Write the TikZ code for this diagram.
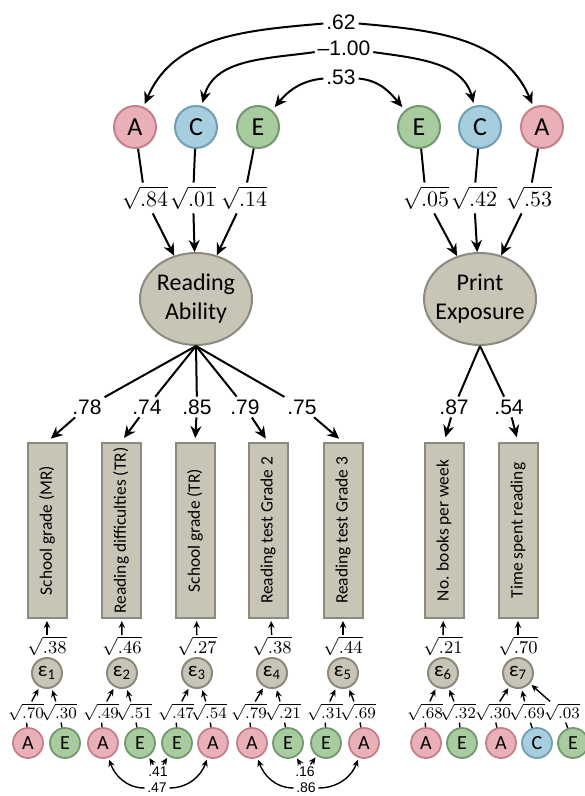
\documentclass[tikz,border=0pt]{standalone}
\usepackage{fontspec}
\usepackage{graphicx}
\usetikzlibrary{arrows.meta, shapes.geometric}
\newfontfamily\calfont{Carlito}
\newfontfamily\arialfont{Liberation Sans}
\definecolor{afill}{RGB}{234,176,184}
\definecolor{adraw}{RGB}{196,128,138}
\definecolor{cfill}{RGB}{166,206,222}
\definecolor{cdraw}{RGB}{112,158,178}
\definecolor{efill}{RGB}{168,204,160}
\definecolor{edraw}{RGB}{114,152,110}
\definecolor{gfill}{RGB}{200,197,183}
\definecolor{gdraw}{RGB}{140,138,126}

\begin{document}
\begin{tikzpicture}[x=0.5pt,y=0.5pt,line width=1pt,
  >={Stealth[length=6pt,width=5.5pt,inset=2pt]},
  ace/.style={circle, draw, line width=1pt, minimum size=21pt, inner sep=0pt, font=\calfont\fontsize{13}{15}\selectfont},
  acesmall/.style={circle, draw, line width=0.9pt, minimum size=15pt, inner sep=0pt, font=\calfont\fontsize{10}{12}\selectfont},
  Aclr/.style={fill=afill, draw=adraw},
  Cclr/.style={fill=cfill, draw=cdraw},
  Eclr/.style={fill=efill, draw=edraw},
  latent/.style={ellipse, draw=gdraw, fill=gfill, line width=1pt, minimum width=56pt, minimum height=46pt, inner sep=0pt},
  lattext/.style={font=\calfont\fontsize{12}{14.5}\selectfont, align=center, inner sep=0pt},
  obs/.style={rectangle, draw=gdraw, fill=gfill, line width=1pt, minimum width=19.5pt, minimum height=87.5pt, inner sep=0pt, font=\calfont\fontsize{8.7}{10}\selectfont},
  err/.style={circle, draw=gdraw, fill=gfill, line width=1pt, minimum size=15pt, inner sep=0pt, font=\calfont\fontsize{10.5}{12}\selectfont},
  corr/.style={font=\arialfont\fontsize{10.5}{12}\selectfont, inner sep=1pt},
  coef/.style={font=\fontsize{11}{13}\selectfont, inner sep=1.5pt},
  coefs/.style={font=\fontsize{9}{10}\selectfont, inner sep=0.3pt},
  coeft/.style={font=\fontsize{8}{9}\selectfont, inner sep=0.6pt},
  smallcorr/.style={font=\arialfont\fontsize{7}{8}\selectfont, inner sep=0.8pt},
  thin/.style={line width=0.7pt, >={Stealth[length=3.5pt,width=3.2pt,inset=1.2pt]}}
]
\useasboundingbox (0,0) rectangle (584,-796);

% genetic factors, top
\node[ace, Aclr] (aL) at (135,-127) {A};
\node[ace, Cclr] (cL) at (196,-127) {C};
\node[ace, Eclr] (eL) at (258,-127) {E};
\node[ace, Eclr] (eR) at (419,-127) {E};
\node[ace, Cclr] (cR) at (480,-127) {C};
\node[ace, Aclr] (aR) at (542,-127) {A};

\node[corr] (r62) at (341,-22) {.62};
\node[corr] (r100) at (344,-48) {–1.00};
\node[corr] (r53) at (341,-77) {.53};

\draw[->, shorten >=1.5pt] (r62) to[out=185,in=67] (aL);
\draw[->, shorten >=1.5pt] (r62) to[out=-5,in=113] (aR);
\draw[->, shorten >=1.5pt] (r100) to[out=188,in=75] (cL);
\draw[->, shorten >=1.5pt] (r100) to[out=-8,in=105] (cR);
\draw[->, shorten >=2pt] (r53) to[out=185,in=50] (eL);
\draw[->, shorten >=2pt] (r53) to[out=-5,in=130] (eR);

\node[coef] (l1) at (145,-198) {$\sqrt{.84}$};
\node[coef] (l2) at (193,-198) {$\sqrt{.01}$};
\node[coef] (l3) at (244,-198) {$\sqrt{.14}$};
\node[coef] (l4) at (426,-198) {$\sqrt{.05}$};
\node[coef] (l5) at (474,-198) {$\sqrt{.42}$};
\node[coef] (l6) at (529,-198) {$\sqrt{.53}$};

% latent variables
\node[latent] (RA) at (196,-299) {};
\node[lattext] (RAt) at (RA) {Reading\\Ability};
\node[latent] (PE) at (480,-299) {};
\node[lattext] (PEt) at (PE) {Print\\Exposure};

\draw (aL) -- (l1);
\draw (cL) -- (l2);
\draw (eL) -- (l3);
\draw (eR) -- (l4);
\draw (cR) -- (l5);
\draw (aR) -- (l6);
\draw[->] (l1) -- (RA);
\draw[->] (l2) -- (RA);
\draw[->] (l3) -- (RA);
\draw[->] (l4) -- (PE);
\draw[->] (l5) -- (PE);
\draw[->] (l6) -- (PE);

% indicators
\node[obs] (b1) at (47,-530.5) {\rotatebox{90}{School grade (MR)}};
\node[obs] (b2) at (121,-530.5) {\rotatebox{90}{Reading difficulties (TR)}};
\node[obs] (b3) at (195,-530.5) {\rotatebox{90}{School grade (TR)}};
\node[obs] (b4) at (268,-530.5) {\rotatebox{90}{Reading test Grade 2}};
\node[obs] (b5) at (343,-530.5) {\rotatebox{90}{Reading test Grade 3}};
\node[obs] (b6) at (444,-530.5) {\rotatebox{90}{No. books per week}};
\node[obs] (b7) at (518,-530.5) {\rotatebox{90}{Time spent reading}};

\node[corr] (f1) at (87,-407) {.78};
\node[corr] (f2) at (147,-407) {.74};
\node[corr] (f3) at (197,-407) {.85};
\node[corr] (f4) at (245,-407) {.79};
\node[corr] (f5) at (302,-407) {.75};
\node[corr] (f6) at (454,-407) {.87};
\node[corr] (f7) at (509,-407) {.54};

\draw (RA.south) -- (f1);
\draw (RA.south) -- (f2);
\draw (RA.south) -- (f3);
\draw (RA.south) -- (f4);
\draw (RA.south) -- (f5);
\draw (PE.south) -- (f6);
\draw (PE.south) -- (f7);
\draw[->, shorten >=2.5pt] (f1) -- (b1.north);
\draw[->, shorten >=2.5pt] (f2) -- (b2.north);
\draw[->, shorten >=2pt] (f3) -- (b3.north);
\draw[->, shorten >=2pt] (f4) -- (b4.north);
\draw[->, shorten >=2.5pt] (f5) -- (b5.north);
\draw[->, shorten >=2.5pt] (f6) -- (b6.north);
\draw[->, shorten >=2.5pt] (f7) -- (b7.north);

% residuals
\node[err] (eps1) at (47,-673) {ε\textsubscript{1}};
\node[err] (eps2) at (122,-673) {ε\textsubscript{2}};
\node[err] (eps3) at (197,-673) {ε\textsubscript{3}};
\node[err] (eps4) at (272,-673) {ε\textsubscript{4}};
\node[err] (eps5) at (343,-673) {ε\textsubscript{5}};
\node[err] (eps6) at (443,-673) {ε\textsubscript{6}};
\node[err] (eps7) at (518,-673) {ε\textsubscript{7}};

\node[coefs] (w1) at (47,-646) {$\sqrt{.38}$};
\node[coefs] (w2) at (122,-646) {$\sqrt{.46}$};
\node[coefs] (w3) at (197,-646) {$\sqrt{.27}$};
\node[coefs] (w4) at (272,-646) {$\sqrt{.38}$};
\node[coefs] (w5) at (343,-646) {$\sqrt{.44}$};
\node[coefs] (w6) at (443,-646) {$\sqrt{.21}$};
\node[coefs] (w7) at (518,-646) {$\sqrt{.70}$};

\draw[thin, ->, shorten >=1pt] (w1) -- (b1);
\draw[thin, ->, shorten >=1pt] (w2) -- (b2);
\draw[thin, ->, shorten >=1pt] (w3) -- (b3);
\draw[thin, ->, shorten >=1pt] (w4) -- (b4);
\draw[thin, ->, shorten >=1pt] (w5) -- (b5);
\draw[thin, ->, shorten >=1pt] (w6) -- (b6);
\draw[thin, ->, shorten >=1pt] (w7) -- (b7);

% genetic factors, bottom
\node[acesmall, Aclr] (u1a) at (28,-743) {A};
\node[acesmall, Eclr] (u1e) at (65,-743) {E};
\node[acesmall, Aclr] (u2a) at (103,-743) {A};
\node[acesmall, Eclr] (u2e) at (140,-743) {E};
\node[acesmall, Eclr] (u3e) at (177,-743) {E};
\node[acesmall, Aclr] (u3a) at (213,-743) {A};
\node[acesmall, Aclr] (u4a) at (252,-743) {A};
\node[acesmall, Eclr] (u4e) at (288,-743) {E};
\node[acesmall, Eclr] (u5e) at (326,-743) {E};
\node[acesmall, Aclr] (u5a) at (364,-743) {A};
\node[acesmall, Aclr] (u6a) at (426,-743) {A};
\node[acesmall, Eclr] (u6e) at (462,-743) {E};
\node[acesmall, Aclr] (u7a) at (501,-743) {A};
\node[acesmall, Cclr] (u7c) at (537,-743) {C};
\node[acesmall, Eclr] (u7e) at (573,-743) {E};

\node[coeft] (v1a) at (26,-712) {$\sqrt{.70}$};
\node[coeft] (v1e) at (59,-712) {$\sqrt{.30}$};
\node[coeft] (v2a) at (101,-712) {$\sqrt{.49}$};
\node[coeft] (v2e) at (134,-712) {$\sqrt{.51}$};
\node[coeft] (v3e) at (176,-712) {$\sqrt{.47}$};
\node[coeft] (v3a) at (209,-712) {$\sqrt{.54}$};
\node[coeft] (v4a) at (249,-712) {$\sqrt{.79}$};
\node[coeft] (v4e) at (283,-712) {$\sqrt{.21}$};
\node[coeft] (v5e) at (325,-712) {$\sqrt{.31}$};
\node[coeft] (v5a) at (358,-712) {$\sqrt{.69}$};
\node[coeft] (v6a) at (425,-712) {$\sqrt{.68}$};
\node[coeft] (v6e) at (458,-712) {$\sqrt{.32}$};
\node[coeft] (v7a) at (493,-712) {$\sqrt{.30}$};
\node[coeft] (v7c) at (527,-712) {$\sqrt{.69}$};
\node[coeft] (v7e) at (562,-712) {$\sqrt{.03}$};

\draw[thin] (u1a) -- (v1a);
\draw[thin] (u1e) -- (v1e);
\draw[thin] (u2a) -- (v2a);
\draw[thin] (u2e) -- (v2e);
\draw[thin] (u3e) -- (v3e);
\draw[thin] (u3a) -- (v3a);
\draw[thin] (u4a) -- (v4a);
\draw[thin] (u4e) -- (v4e);
\draw[thin] (u5e) -- (v5e);
\draw[thin] (u5a) -- (v5a);
\draw[thin] (u6a) -- (v6a);
\draw[thin] (u6e) -- (v6e);
\draw[thin] (u7a) -- (v7a);
\draw[thin] (u7c) -- (v7c);
\draw[thin] (u7e) -- (v7e);

\draw[thin, ->, shorten >=1pt] (v1a) -- (eps1);
\draw[thin, ->, shorten >=1pt] (v1e) -- (eps1);
\draw[thin, ->, shorten >=1pt] (v2a) -- (eps2);
\draw[thin, ->, shorten >=1pt] (v2e) -- (eps2);
\draw[thin, ->, shorten >=1pt] (v3e) -- (eps3);
\draw[thin, ->, shorten >=1pt] (v3a) -- (eps3);
\draw[thin, ->, shorten >=1pt] (v4a) -- (eps4);
\draw[thin, ->, shorten >=1pt] (v4e) -- (eps4);
\draw[thin, ->, shorten >=1pt] (v5e) -- (eps5);
\draw[thin, ->, shorten >=1pt] (v5a) -- (eps5);
\draw[thin, ->, shorten >=1pt] (v6a) -- (eps6);
\draw[thin, ->, shorten >=1pt] (v6e) -- (eps6);
\draw[thin, ->, shorten >=1pt] (v7a) -- (eps7);
\draw[thin, ->, shorten >=1pt] (v7c) -- (eps7);
\draw[thin, ->, shorten >=1pt] (v7e) -- (eps7);

% residual correlations
\node[smallcorr] (r41) at (158,-772) {.41};
\node[smallcorr] (r47) at (157,-788) {.47};
\node[smallcorr] (r16) at (305,-772) {.16};
\node[smallcorr] (r86) at (306,-788) {.86};

\draw[thin, ->, shorten >=1pt] (r41) -- (u2e);
\draw[thin, ->, shorten >=1pt] (r41) -- (u3e);
\draw[thin, ->, shorten >=1pt] (r16) -- (u4e);
\draw[thin, ->, shorten >=1pt] (r16) -- (u5e);
\draw[thin, ->, shorten >=1pt] (r47) to[out=180,in=-70] (u2a);
\draw[thin, ->, shorten >=1pt] (r47) to[out=0,in=-110] (u3a);
\draw[thin, ->, shorten >=1pt] (r86) to[out=180,in=-70] (u4a);
\draw[thin, ->, shorten >=1pt] (r86) to[out=0,in=-110] (u5a);
\end{tikzpicture}
\end{document}
